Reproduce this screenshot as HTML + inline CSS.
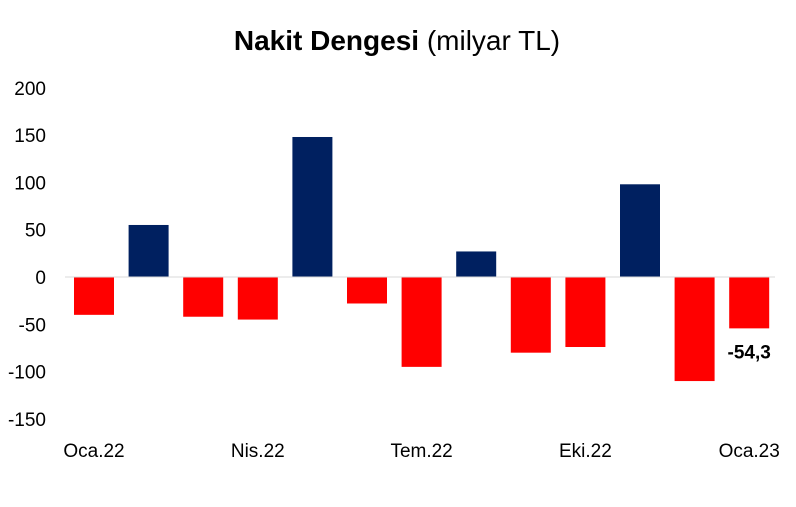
<!DOCTYPE html>
<html><head><meta charset="utf-8"><style>
body{margin:0;background:#fff;font-family:"Liberation Sans",sans-serif;}
</style></head><body>
<svg width="796" height="502" xmlns="http://www.w3.org/2000/svg" id="chart">
<text x="397" y="50" text-anchor="middle" font-size="28" fill="#000"><tspan font-weight="bold">Nakit Dengesi</tspan> (milyar TL)</text>
<g id="yaxis"></g>
<g id="bars"></g>
<line x1="65" y1="277" x2="775" y2="277" stroke="#d9d9d9" stroke-width="1"/>
<g id="xaxis"></g>
</svg>
<script>
const categories=["Oca.22","Şub.22","Mar.22","Nis.22","May.22","Haz.22","Tem.22","Ağu.22","Eyl.22","Eki.22","Kas.22","Ara.22","Oca.23"];
const values=[-40,55,-42,-45,148,-28,-95,27,-80,-74,98,-110,-54.3];
const yTicks=[200,150,100,50,0,-50,-100,-150];
const xLabelIdx=[0,3,6,9,12];
const NS="http://www.w3.org/2000/svg";
const y0=277,pxPer=47.3/50;
function y(v){return y0-v*pxPer;}
const step=54.6,x0=74,bw=40;
function x(i){return x0+i*step;}
const ya=document.getElementById('yaxis');
yTicks.forEach(t=>{const e=document.createElementNS(NS,'text');


e.setAttribute('x',46);e.setAttribute('y',y(t)+7);e.setAttribute('text-anchor','end');e.setAttribute('font-size','19');e.setAttribute('fill','#000');e.textContent=t;ya.appendChild(e);});
const bg=document.getElementById('bars');
values.forEach((v,i)=>{const r=document.createElementNS(NS,'rect');


r.setAttribute('x',x(i));r.setAttribute('width',bw);
r.setAttribute('y',Math.min(y(v),y0));r.setAttribute('height',Math.abs(y(v)-y0));
r.setAttribute('fill',v>=0?'#002060':'#ff0000');bg.appendChild(r);});
const last=values.length-1;
const lb=document.createElementNS(NS,'text');


lb.setAttribute('x',x(last)+bw/2);lb.setAttribute('y',y(values[last])+30);lb.setAttribute('text-anchor','middle');lb.setAttribute('font-size','19');lb.setAttribute('font-weight','bold');
lb.textContent=values[last].toString().replace('.',',');bg.appendChild(lb);
const xa=document.getElementById('xaxis');
xLabelIdx.forEach(i=>{const e=document.createElementNS(NS,'text');


e.setAttribute('x',x(i)+bw/2);e.setAttribute('y',457);e.setAttribute('text-anchor','middle');e.setAttribute('font-size','19');e.textContent=categories[i];xa.appendChild(e);});
</script>
</body></html>
